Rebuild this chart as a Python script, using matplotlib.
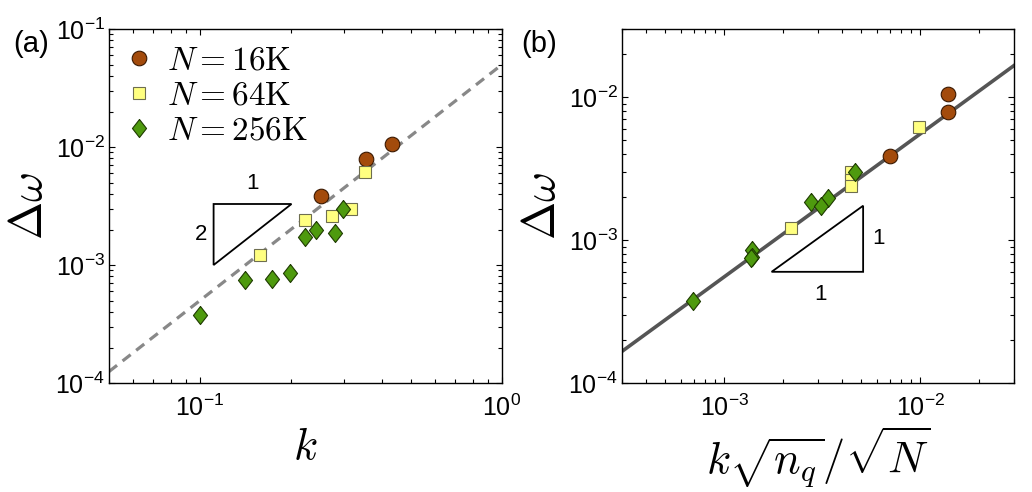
import matplotlib
matplotlib.use('Agg')
import matplotlib.pyplot as plt
import numpy as np

plt.rcParams['font.family'] = 'Liberation Sans'
plt.rcParams['mathtext.fontset'] = 'cm'

# data
k_16 = [0.432, 0.355, 0.251]
dw_16 = [0.01055, 0.00787, 0.00385]
k_64 = [0.353, 0.317, 0.273, 0.223, 0.158]
dw_64 = [0.00618, 0.00299, 0.00262, 0.0024, 0.00122]
k_256 = [0.298, 0.281, 0.243, 0.222, 0.199, 0.173, 0.141, 0.100]
dw_256 = [0.00298, 0.00186, 0.00198, 0.00172, 0.000851, 0.000766, 0.000746, 0.000377]

# rescaled abscissa k*sqrt(n_q)/sqrt(N)
s_16 = [0.0139, 0.0139, 0.00697]
s_64 = [0.0098, 0.0044, 0.0044, 0.0044, 0.00218]
s_256 = [0.00463, 0.00275, 0.00338, 0.0031, 0.00138, 0.00138, 0.00137, 0.000692]

labels = [r'$N=16\mathrm{K}$', r'$N=64\mathrm{K}$', r'$N=256\mathrm{K}$']

# guide lines
amp_a, xlim_a = 0.05, (0.05, 1.0)
amp_b, xlim_b = 0.555, (3e-4, 3e-2)
ylim_a = (1e-4, 1e-1)
ylim_b = (1e-4, 3e-2)

# slope triangles (data coords)
tri_a = [(0.111, 0.00329), (0.201, 0.00329), (0.111, 0.001)]
tri_b = [(0.00174, 0.0006), (0.0051, 0.0006), (0.0051, 0.00174)]

diamond = [(0, 1), (0.78, 0), (0, -1), (-0.78, 0), (0, 1)]
styles = [
    dict(marker='o', ms=10.5, mfc='#a34b0c', mec='#3a1800', mew=0.8),
    dict(marker='s', ms=8.2, mfc='#ffff80', mec='#6e6e50', mew=0.8),
    dict(marker=diamond, ms=13, mfc='#4e9a0e', mec='#1e3a00', mew=0.8),
]

fig = plt.figure(figsize=(10.32, 4.92), dpi=100)
ax1 = fig.add_axes([0.1056, 0.2215, 0.3808, 0.7195])
ax2 = fig.add_axes([0.6027, 0.2215, 0.3798, 0.7195])


def style_axes(ax):
    ax.set_xscale('log')
    ax.set_yscale('log')
    ax.tick_params(which='both', direction='in', top=True, right=True,
                   labelsize=18, width=0.8)
    ax.tick_params(axis='x', which='both', pad=8)
    ax.tick_params(axis='y', which='both', pad=3)
    ax.tick_params(which='major', length=4)
    ax.tick_params(which='minor', length=3)
    for sp in ax.spines.values():
        sp.set_linewidth(1.0)


# (a)
style_axes(ax1)
kk = np.array(xlim_a)
ax1.plot(kk, amp_a * kk**2, color='#888888', lw=2.3, dashes=(3.2, 2.2), zorder=1)
for x, y, lab, st in zip([k_16, k_64, k_256], [dw_16, dw_64, dw_256], labels, styles):
    ax1.plot(x, y, ls='none', label=lab, zorder=3, **st)
ax1.add_patch(plt.Polygon(tri_a, closed=True, fill=False, ec='black', lw=1.3, zorder=2))
ax1.text(0.149, 0.0040, '1', fontsize=16, ha='center', va='bottom')
ax1.text(0.106, 0.0018, '2', fontsize=16, ha='right', va='center')
ax1.set_xlim(*xlim_a)
ax1.set_ylim(*ylim_a)
ax1.set_xlabel(r'$k$', fontsize=32, labelpad=5)
ax1.set_ylabel(r'$\Delta\omega$', fontsize=33)
ax1.yaxis.set_label_coords(-0.145, 0.5)
ax1.legend(loc='upper left', frameon=False, prop={'size': 24},
           handletextpad=0.45, labelspacing=0.12, borderaxespad=0.25,
           handlelength=0.8, borderpad=0.25)

# (b)
style_axes(ax2)
ss = np.array(xlim_b)
ax2.plot(ss, amp_b * ss, color='#555555', lw=2.6, zorder=1)
for x, y, st in zip([s_16, s_64, s_256], [dw_16, dw_64, dw_256], styles):
    ax2.plot(x, y, ls='none', zorder=3, **st)
ax2.add_patch(plt.Polygon(tri_b, closed=True, fill=False, ec='black', lw=1.3, zorder=2))
ax2.text(0.0057, 0.00102, '1', fontsize=16, ha='left', va='center')
ax2.text(0.0031, 0.00049, '1', fontsize=16, ha='center', va='top')
ax2.set_xlim(*xlim_b)
ax2.set_ylim(*ylim_b)
ax2.set_xlabel(r'$k\sqrt{n_q}/\sqrt{N}$', fontsize=32, labelpad=3)
ax2.set_ylabel(r'$\Delta\omega$', fontsize=33)
ax2.yaxis.set_label_coords(-0.145, 0.5)

fig.text(31 / 1032, 1 - 44 / 492, '(a)', fontsize=21, ha='center', va='center')
fig.text(539 / 1032, 1 - 44 / 492, '(b)', fontsize=21, ha='center', va='center')

fig.savefig('out.png', dpi=100)
